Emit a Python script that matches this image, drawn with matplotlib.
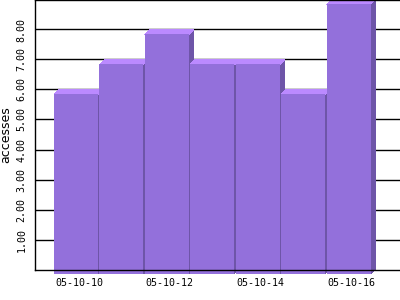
import matplotlib
matplotlib.use("Agg")
import matplotlib.pyplot as plt
from matplotlib.patches import Polygon
from matplotlib.transforms import IdentityTransform
import numpy as np

dates = ["05-10-10", "05-10-11", "05-10-12", "05-10-13", "05-10-14", "05-10-15", "05-10-16"]
accesses = [6, 7, 8, 7, 7, 6, 9]
ytick_values = [1, 2, 3, 4, 5, 6, 7, 8]
xtick_labels = ["05-10-10", "", "05-10-12", "", "05-10-14", "", "05-10-16"]

FRONT = "#9370DB"
TOP = "#BB8AFF"
SIDE = "#6E55A8"

W, H = 400, 300
fig = plt.figure(figsize=(4, 3), dpi=100)
ax = fig.add_axes([35 / W, (300 - 269.5) / H, 365 / W, 269.5 / H])
ax.set_xlim(-0.918, 7.115)
ax.set_ylim(0, 269.5 / 30)

ax.spines["right"].set_visible(False)
for s in ("left", "bottom", "top"):
    ax.spines[s].set_linewidth(1.0)
    ax.spines[s].set_color("black")
    ax.spines[s].set_zorder(10)

ax.set_yticks(ytick_values)
ax.set_yticklabels([f"{v:.2f}" for v in ytick_values], rotation=90, va="center",
                   family="DejaVu Sans Mono", fontsize=7.2)
ax.set_xticks(np.arange(len(dates)) + 0.05)
ax.set_xticklabels(xtick_labels, family="DejaVu Sans Mono", fontsize=7.2)
ax.tick_params(axis="both", length=0)
ax.tick_params(axis="y", pad=6)
ax.tick_params(axis="x", pad=6)
ax.yaxis.grid(True, color="black", linewidth=1.0)
ax.set_axisbelow(True)
ax.set_ylabel("accesses", fontsize=9, labelpad=3)

# 3D-looking bars drawn in display coordinates via the axes' data transform
dx, dy = 5.0, 4.5     # depth offset (pixels)
gap = 1.5             # gap between fronts (pixels)
to_px = ax.transData.transform
ident = IdentityTransform()
for i, v in enumerate(accesses):
    (xl, yb), (xr, yt) = to_px([(i - 0.5, 0), (i + 0.5, v)])
    fxl, fxr = xl, xr - gap
    fyb, fyt = yb - dy, yt - dy
    z = 3 + i * 0.01
    side = Polygon([(fxr - 0.5, fyb), (fxr - 0.5, fyt), (fxr + dx, fyt + dy), (fxr + dx, fyb + dy)],
                   closed=True, facecolor=SIDE, edgecolor="none", transform=ident,
                   clip_on=False, zorder=z, antialiased=False)
    top = Polygon([(fxl, fyt - 0.5), (fxr, fyt - 0.5), (fxr + dx, fyt + dy), (fxl + dx, fyt + dy)],
                  closed=True, facecolor=TOP, edgecolor="none", transform=ident,
                  clip_on=False, zorder=z, antialiased=False)
    front = Polygon([(fxl, fyb), (fxr, fyb), (fxr, fyt), (fxl, fyt)],
                    closed=True, facecolor=FRONT, edgecolor="none", transform=ident,
                    clip_on=False, zorder=z + 0.005, antialiased=False)
    ax.add_artist(side)
    ax.add_artist(top)
    ax.add_artist(front)

fig.savefig("out.png", dpi=100)
